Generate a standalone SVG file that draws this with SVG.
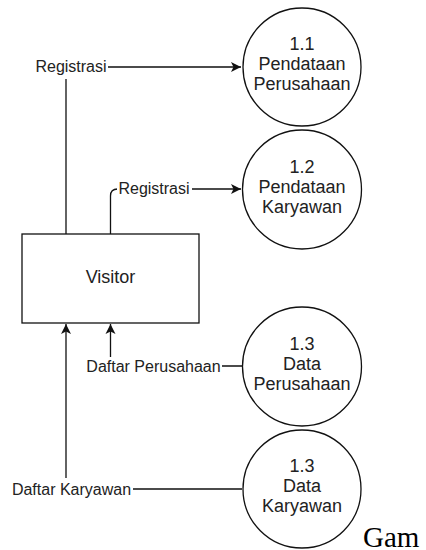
<svg xmlns="http://www.w3.org/2000/svg" width="426" height="550" viewBox="0 0 426 550">
<style>
.ln{fill:none;stroke:#111;stroke-width:1.3}
.shape{fill:#fff;stroke:#111;stroke-width:1.3}
.ct{font-family:"Liberation Sans",Arial,sans-serif;font-size:18px;fill:#222;text-anchor:middle}
.el{font-family:"Liberation Sans",Arial,sans-serif;font-size:16px;fill:#222;text-anchor:middle}
.bg{fill:#fff}
</style>
<defs>
<marker id="arr" markerUnits="userSpaceOnUse" markerWidth="12" markerHeight="12" viewBox="0 0 12 12" refX="11" refY="6" orient="auto">
<path d="M1,1 L11,6 L1,11 L3.5,6 Z" fill="#111"/>
</marker>
</defs>
<rect width="426" height="550" fill="#fff"/>
<g id="connectors">
<path class="ln" d="M66,234 V67 H241" marker-end="url(#arr)"/>
<path class="ln" d="M110.5,234 V196 Q110.5,189 117.5,189 H241" marker-end="url(#arr)"/>
<path class="ln" d="M242,366 H110.5 V324" marker-end="url(#arr)"/>
<path class="ln" d="M242,489 H66 V324" marker-end="url(#arr)"/>
<rect class="bg" x="34" y="59" width="74" height="20"/>
<text class="el" x="71" y="72">Registrasi</text>
<rect class="bg" x="117" y="181" width="75" height="17"/>
<text class="el" x="154" y="194">Registrasi</text>
<rect class="bg" x="85" y="357" width="137" height="18"/>
<text class="el" x="153.5" y="371.5">Daftar Perusahaan</text>
<rect class="bg" x="10" y="478" width="123" height="19"/>
<text class="el" x="71.5" y="494.5">Daftar Karyawan</text>
</g>
<g id="visitor">
<rect class="shape" x="22" y="234" width="177" height="89"/>
<text class="ct" x="110.5" y="283">Visitor</text>
</g>
<g id="p11">
<circle class="shape" cx="302" cy="67" r="59"/>
<text class="ct" x="302" y="50">1.1</text>
<text class="ct" x="302" y="70">Pendataan</text>
<text class="ct" x="302" y="90">Perusahaan</text>
</g>
<g id="p12">
<circle class="shape" cx="302" cy="189.5" r="59.5"/>
<text class="ct" x="302" y="172.5">1.2</text>
<text class="ct" x="302" y="192.5">Pendataan</text>
<text class="ct" x="302" y="212.5">Karyawan</text>
</g>
<g id="p13a">
<circle class="shape" cx="302" cy="366.5" r="59.5"/>
<text class="ct" x="302" y="349.5">1.3</text>
<text class="ct" x="302" y="369.5">Data</text>
<text class="ct" x="302" y="389.5">Perusahaan</text>
</g>
<g id="p13b">
<circle class="shape" cx="302" cy="489" r="59"/>
<text class="ct" x="302" y="472">1.3</text>
<text class="ct" x="302" y="492">Data</text>
<text class="ct" x="302" y="512">Karyawan</text>
</g>
<text x="363" y="547" font-family="'Liberation Serif','Times New Roman',serif" font-size="29" fill="#000">Gam</text>
</svg>
